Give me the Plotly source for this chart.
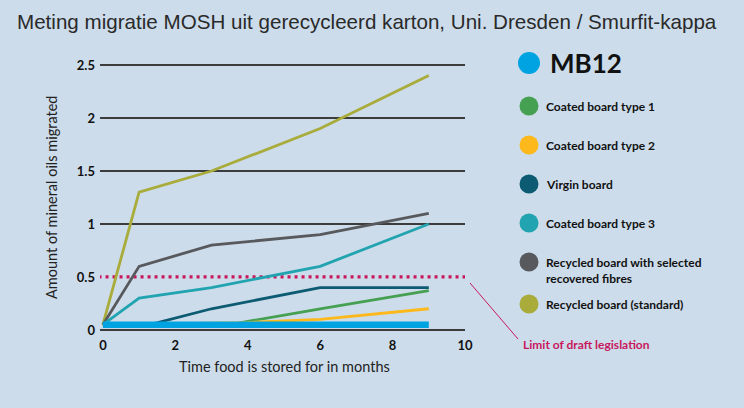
import plotly.graph_objects as go

# ---- data ----
months = [0, 1, 3, 6, 9]
recycled_standard = [0.05, 1.3, 1.5, 1.9, 2.4]
recycled_selected = [0.05, 0.6, 0.8, 0.9, 1.1]
coated3 = [0.05, 0.3, 0.4, 0.6, 1.0]
virgin_x = [0, 1.3, 3, 6, 9]
virgin = [0.05, 0.05, 0.2, 0.4, 0.4]
coated1_x = [0, 3.5, 6, 9]
coated1 = [0.05, 0.05, 0.2, 0.37]
coated2_x = [0, 4, 6, 9]
coated2 = [0.05, 0.07, 0.1, 0.2]
mb12_x = [0, 9]
mb12 = [0.05, 0.05]
limit_x = [-0.12, 10]
limit = [0.5, 0.5]

legend_names = ["MB12", "Coated board type 1", "Coated board type 2", "Virgin board",
                "Coated board type 3", "Recycled board with selected<br>recovered fibres",
                "Recycled board (standard)"]
x_ticks = [0, 2, 4, 6, 8, 10]
y_ticks = [0, 0.5, 1, 1.5, 2, 2.5]
y_ticktext = ["0", "0.5", "1", "1.5", "2", "2.5"]
grid_vals = [0, 1, 1.5, 2, 2.5]

C_OLIVE = "#a9ac3b"
C_GRAY = "#58595d"
C_TEAL = "#22a4b0"
C_VIRGIN = "#0c5b72"
C_GREEN = "#46a052"
C_YELLOW = "#fdb81b"
C_BLUE = "#00a3e1"
C_LIMIT = "#c8175c"
BG = "#ccdcea"
FONT = "Lato"
Y_RANGE = [-0.057, 2.547]

fig = go.Figure()
fig.add_trace(go.Scatter(x=limit_x, y=limit, mode="lines",
                         line=dict(color=C_LIMIT, width=3.3, dash="3px,4px")))
series = [
    (months, recycled_standard, C_OLIVE, 2.8),
    (months, recycled_selected, C_GRAY, 2.8),
    (months, coated3, C_TEAL, 2.8),
    (virgin_x, virgin, C_VIRGIN, 2.8),
    (coated1_x, coated1, C_GREEN, 2.8),
    (coated2_x, coated2, C_YELLOW, 2.8),
]
for xs, ys, c, w in series:
    fig.add_trace(go.Scatter(x=xs, y=ys, mode="lines", line=dict(color=c, width=w)))
# MB12 on the overlaid axis (drawn on top; that axis carries the gridlines)
fig.add_trace(go.Scatter(x=mb12_x, y=mb12, mode="lines", yaxis="y2",
                         line=dict(color=C_BLUE, width=6.5)))

L, R, T, B = 100, 465, 60, 336
W, H = 744, 408

def px(x):
    return (x - L) / (R - L)

def py(y):
    return (B - y) / (B - T)

shapes = []
annotations = []

# legend
leg_colors = [C_BLUE, C_GREEN, C_YELLOW, C_VIRGIN, C_TEAL, C_GRAY, C_OLIVE]
leg_y = [63, 106, 145, 184, 223, 262, 304]
leg_text_y = [63, 106, 145, 184, 223, 270, 304]
for i, (c, yy, ty, name) in enumerate(zip(leg_colors, leg_y, leg_text_y, legend_names)):
    r = 11 if i == 0 else 9.5
    shapes.append(dict(type="circle", xref="paper", yref="paper",
                       xsizemode="pixel", ysizemode="pixel",
                       xanchor=px(529), yanchor=py(yy),
                       x0=-r, x1=r, y0=-r, y1=r,
                       fillcolor=c, line=dict(width=0)))
    annotations.append(dict(xref="paper", yref="paper", x=px(548 if i == 0 else 544), y=py(ty),
                            xanchor="left", yanchor="middle", align="left", showarrow=False,
                            text=name,
                            font=dict(family=FONT, size=26 if i == 0 else 12, color="#111111",
                                      weight="bold")))

# limit leader line and label
shapes.append(dict(type="line", xref="paper", yref="paper",
                   x0=px(470), y0=py(283), x1=px(518), y1=py(339),
                   line=dict(color=C_LIMIT, width=1)))
annotations.append(dict(xref="paper", yref="paper", x=px(521), y=py(344),
                        xanchor="left", yanchor="middle", showarrow=False,
                        text="Limit of draft legislation",
                        font=dict(family=FONT, size=12, color=C_LIMIT, weight="bold")))

# axis titles
annotations.append(dict(xref="paper", yref="paper", x=px(284), y=py(366),
                        xanchor="center", yanchor="middle", showarrow=False,
                        text="Time food is stored for in months",
                        font=dict(family=FONT, size=14.5, color="#222222")))
annotations.append(dict(xref="paper", yref="paper", x=px(51), y=py(198),
                        xanchor="center", yanchor="middle", showarrow=False, textangle=-90,
                        text="Amount of mineral oils migrated",
                        font=dict(family=FONT, size=14.5, color="#222222")))

fig.update_layout(
    width=W, height=H,
    margin=dict(l=L, r=W - R, t=T, b=H - B),
    paper_bgcolor=BG, plot_bgcolor=BG,
    showlegend=False,
    title=dict(text="Meting migratie MOSH uit gerecycleerd karton, Uni. Dresden / Smurfit-kappa",
               x=17 / W, xanchor="left", y=1 - 22 / H, yanchor="middle",
               font=dict(family="Liberation Sans, Arial", size=20.6, color="#2a2a2a")),
    shapes=shapes, annotations=annotations,
    xaxis=dict(range=[-0.08, 10], tickvals=x_ticks, showgrid=False, zeroline=False,
               showline=False, ticks="",
               tickfont=dict(family=FONT, size=13, color="#111111", weight="bold")),
    yaxis=dict(range=Y_RANGE, tickvals=y_ticks, ticktext=y_ticktext,
               showgrid=False, zeroline=False, showline=False, ticks="", ticklabelstandoff=4,
               tickfont=dict(family=FONT, size=13, color="#111111", weight="bold")),
    yaxis2=dict(overlaying="y", range=Y_RANGE, tickvals=grid_vals,
                showticklabels=False, showgrid=True, gridcolor="#3c3c3c", gridwidth=1.5,
                zeroline=False, showline=False, ticks=""),
)

fig.write_html("out.html", config={"displayModeBar": False},
               post_script="document.body.style.margin='0';document.body.style.background='%s';" % BG)
